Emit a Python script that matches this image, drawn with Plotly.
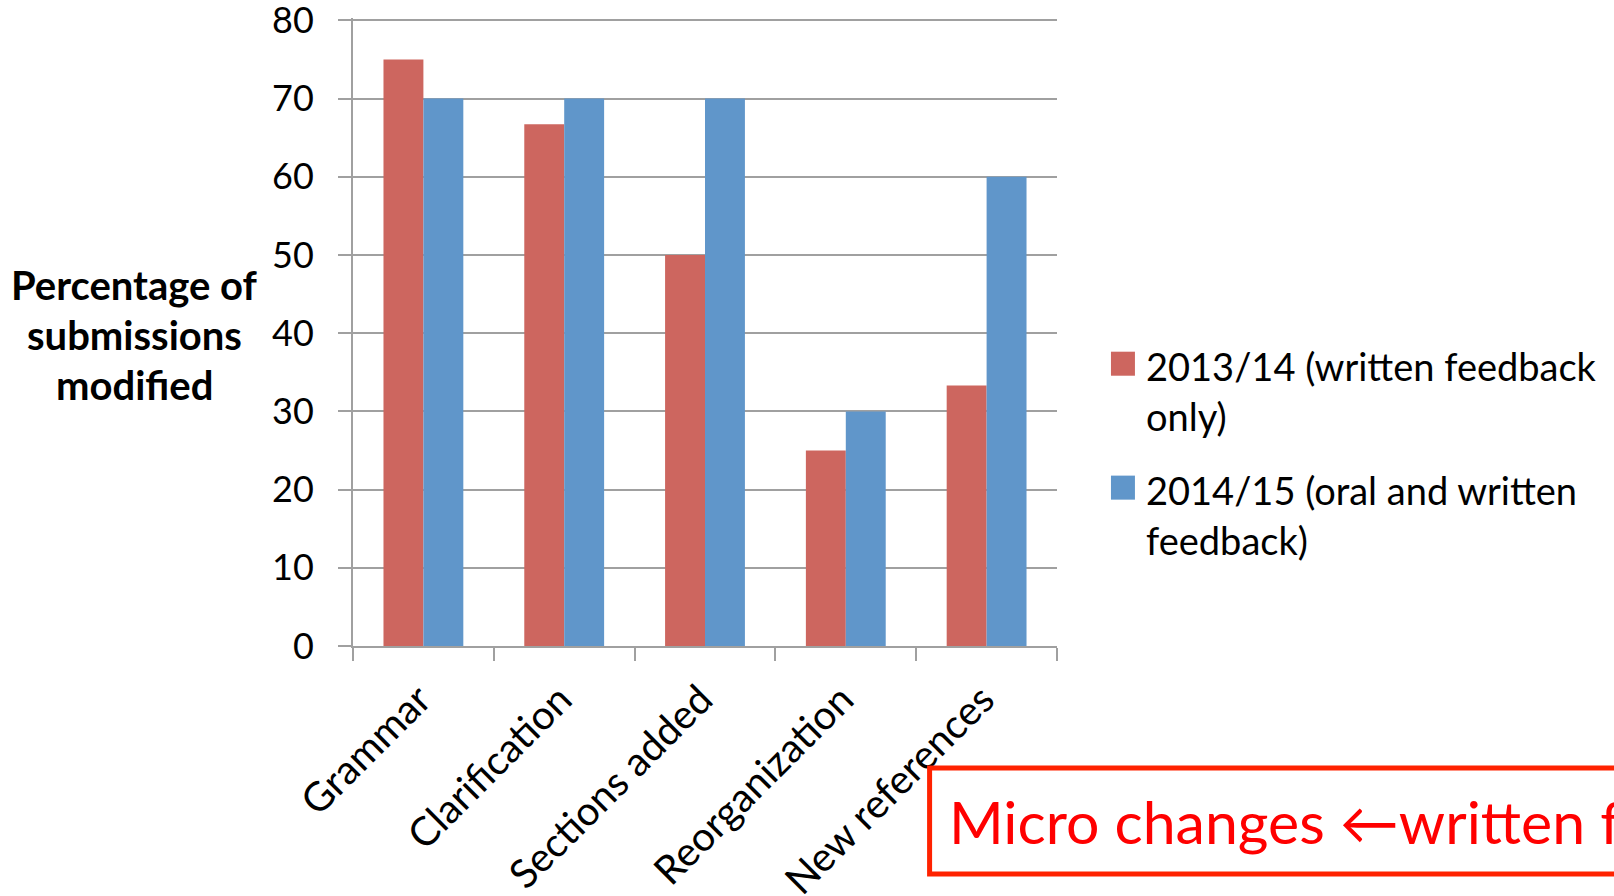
import plotly.graph_objects as go

# ---- data ----
categories = ["Grammar", "Clarification", "Sections added", "Reorganization", "New references"]
series_names = ["2013/14 (written feedback<br>only)", "2014/15 (oral and written<br>feedback)"]
values_2013_14 = [75, 66.7, 50, 25, 33.3]
values_2014_15 = [70, 70, 70, 30, 60]
series_colors = ["#CD665F", "#6096CA"]
y_tick_values = [0, 10, 20, 30, 40, 50, 60, 70, 80]
y_title_lines = ["Percentage of", "submissions", "modified"]
callout_text = "Micro changes \u2190written feedback"

# ---- geometry (pixels) ----
W, H = 1614, 896
Y_MAX = 80.3
PL, PR, PB = 352.5, 1057.0, 645.7
PT = 20.7 - (Y_MAX - 80) * (645.7 - 20.7) / 80.0


def px_x(x):
    return (x - PL) / (PR - PL)


def px_y(y):
    return (PB - y) / (PB - PT)


FONT = "Lato"
GRID = "#a0a0a0"

fig = go.Figure()
for name, vals, col in zip(series_names, [values_2013_14, values_2014_15], series_colors):
    fig.add_trace(go.Bar(
        x=categories, y=vals, name=name.replace("<br>", " "),
        marker=dict(color=col, line=dict(width=0)),
        showlegend=False,
    ))

annotations = []
shapes = []

# y-axis title (horizontal, bold, three lines)
for i, line in enumerate(y_title_lines):
    annotations.append(dict(
        text="<b>%s</b>" % line, xref="paper", yref="paper",
        x=px_x(134), y=px_y(285 + 50 * i), xanchor="center", yanchor="middle",
        showarrow=False, font=dict(family=FONT, size=40, color="black"),
    ))

# legend drawn manually
legend_tops = [351.7, 475.5]
for name, col, top in zip(series_names, series_colors, legend_tops):
    shapes.append(dict(
        type="rect", xref="paper", yref="paper",
        x0=px_x(1111), x1=px_x(1135), y0=px_y(top), y1=px_y(top + 24),
        fillcolor=col, line=dict(width=0),
    ))
    for j, line in enumerate(name.split("<br>")):
        annotations.append(dict(
            text=line, xref="paper", yref="paper",
            x=px_x(1144), y=px_y(top + 14 + 50 * j), xanchor="left", yanchor="middle",
            showarrow=False, font=dict(family=FONT, size=38, color="black"),
        ))

# red callout box
shapes.append(dict(
    type="rect", xref="paper", yref="paper", layer="above",
    x0=px_x(929.5), x1=px_x(1750), y0=px_y(767.5), y1=px_y(873.5),
    fillcolor="white", line=dict(color="#ff2200", width=5),
))
annotations.append(dict(
    text=callout_text, xref="paper", yref="paper",
    x=px_x(947), y=px_y(821), xanchor="left", yanchor="middle",
    showarrow=False, font=dict(family=FONT, size=59, color="#ff0000"),
))

fig.update_layout(
    width=W, height=H,
    margin=dict(l=PL, r=W - PR, t=PT, b=H - PB, pad=0, autoexpand=False),
    paper_bgcolor="white", plot_bgcolor="white",
    barmode="group", bargap=0.433, bargroupgap=0,
    showlegend=False,
    font=dict(family=FONT, color="black"),
    annotations=annotations, shapes=shapes,
    xaxis=dict(
        showline=True, linecolor=GRID, linewidth=2,
        ticks="outside", tickson="boundaries", ticklen=13, tickwidth=2, tickcolor=GRID,
        showgrid=False, tickangle=-45, automargin=False,
        tickfont=dict(family=FONT, size=40, color="black"),
        ticklabelstandoff=12, ticklabelshift=-4, ticklabeloverflow="allow",
    ),
    yaxis=dict(
        range=[0, Y_MAX], tickvals=y_tick_values,
        showline=True, linecolor=GRID, linewidth=2,
        ticks="outside", ticklen=13, tickwidth=2, tickcolor=GRID,
        showgrid=True, gridcolor=GRID, gridwidth=2, zeroline=False, automargin=False,
        tickfont=dict(family=FONT, size=36, color="black"),
        ticklabelstandoff=17, ticklabeloverflow="allow",
    ),
)

fig.write_html("out.html")
